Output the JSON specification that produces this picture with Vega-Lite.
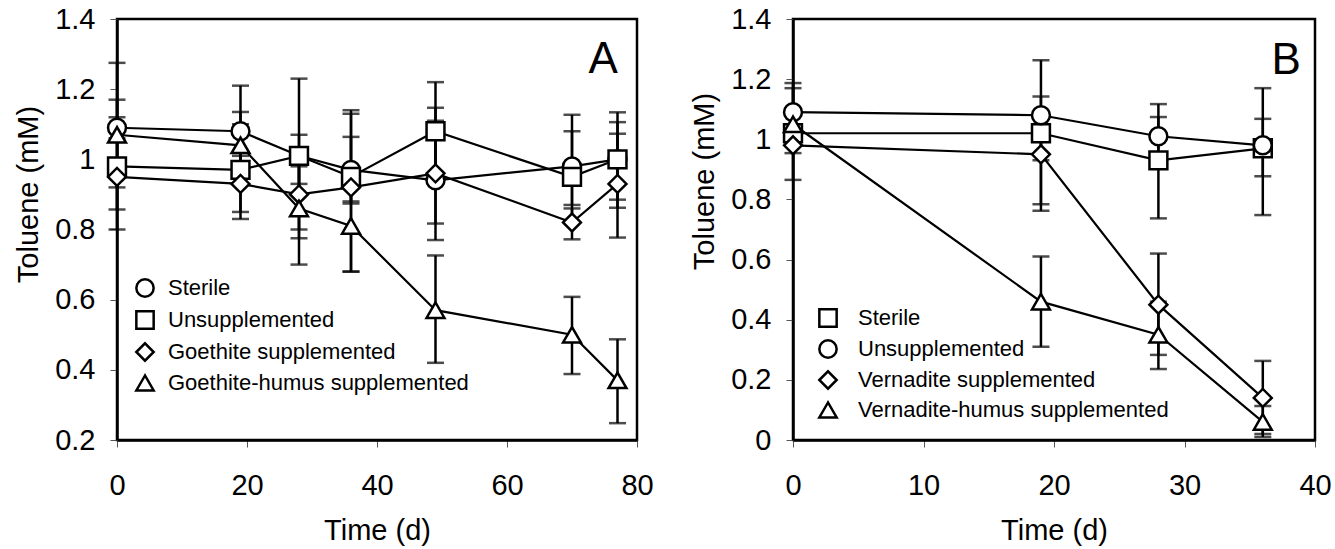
{
  "$schema": "https://vega.github.io/schema/vega-lite/v6.json",
  "background": "white",
  "padding": {"left": 12, "top": 3, "right": 0, "bottom": 0},
  "config": {
    "font": "Liberation Sans",
    "view": {"stroke": "black", "strokeWidth": 2.5},
    "axis": {
      "grid": false, "labelFlush": false,
      "labelFont": "Liberation Sans", "labelFontSize": 29, "labelColor": "black",
      "titleFont": "Liberation Sans", "titleFontSize": 29, "titleFontWeight": "normal", "titleColor": "black",
      "domainColor": "black", "domainWidth": 2.5,
      "tickColor": "#555", "tickSize": 7, "tickWidth": 1
    },
    "legend": {"labelFont": "Liberation Sans", "labelFontSize": 22, "labelColor": "black", "labelLimit": 0}
  },
  "datasets": {
    "A": [
      {"s": "Sterile", "t": 0, "v": 1.09, "lo": 1.06, "hi": 1.12},
      {"s": "Sterile", "t": 19, "v": 1.08, "lo": 0.95, "hi": 1.21},
      {"s": "Sterile", "t": 28, "v": 1.01, "lo": 0.93, "hi": 1.07},
      {"s": "Sterile", "t": 36, "v": 0.97, "lo": 0.88, "hi": 1.064},
      {"s": "Sterile", "t": 49, "v": 0.94, "lo": 0.77, "hi": 1.11},
      {"s": "Sterile", "t": 70, "v": 0.98, "lo": 0.87, "hi": 1.127},
      {"s": "Sterile", "t": 77, "v": 1.0, "lo": 0.885, "hi": 1.134},
      {"s": "Unsupplemented", "t": 0, "v": 0.98, "lo": 0.8, "hi": 1.17},
      {"s": "Unsupplemented", "t": 19, "v": 0.97, "lo": 0.83, "hi": 1.135},
      {"s": "Unsupplemented", "t": 28, "v": 1.01, "lo": 0.8, "hi": 1.23},
      {"s": "Unsupplemented", "t": 36, "v": 0.95, "lo": 0.68, "hi": 1.13},
      {"s": "Unsupplemented", "t": 49, "v": 1.08, "lo": 0.94, "hi": 1.22},
      {"s": "Unsupplemented", "t": 70, "v": 0.95, "lo": 0.82, "hi": 1.08},
      {"s": "Unsupplemented", "t": 77, "v": 1.0, "lo": 0.862, "hi": 1.106},
      {"s": "Goethite supplemented", "t": 0, "v": 0.95, "lo": 0.92, "hi": 0.98},
      {"s": "Goethite supplemented", "t": 19, "v": 0.93, "lo": 0.85, "hi": 1.01},
      {"s": "Goethite supplemented", "t": 28, "v": 0.9, "lo": 0.775, "hi": 1.02},
      {"s": "Goethite supplemented", "t": 36, "v": 0.92, "lo": 0.874, "hi": 1.14},
      {"s": "Goethite supplemented", "t": 49, "v": 0.96, "lo": 0.817, "hi": 1.147},
      {"s": "Goethite supplemented", "t": 70, "v": 0.82, "lo": 0.772, "hi": 0.86},
      {"s": "Goethite supplemented", "t": 77, "v": 0.93, "lo": 0.777, "hi": 1.073},
      {"s": "Goethite-humus supplemented", "t": 0, "v": 1.07, "lo": 0.857, "hi": 1.275},
      {"s": "Goethite-humus supplemented", "t": 19, "v": 1.04, "lo": 0.98, "hi": 1.1},
      {"s": "Goethite-humus supplemented", "t": 28, "v": 0.86, "lo": 0.7, "hi": 0.98},
      {"s": "Goethite-humus supplemented", "t": 36, "v": 0.81, "lo": 0.68, "hi": 0.94},
      {"s": "Goethite-humus supplemented", "t": 49, "v": 0.57, "lo": 0.42, "hi": 0.726},
      {"s": "Goethite-humus supplemented", "t": 70, "v": 0.5, "lo": 0.388, "hi": 0.608},
      {"s": "Goethite-humus supplemented", "t": 77, "v": 0.37, "lo": 0.248, "hi": 0.487}
    ],
    "B": [
      {"s": "Sterile", "t": 0, "v": 1.02, "lo": 0.865, "hi": 1.17},
      {"s": "Sterile", "t": 19, "v": 1.02, "lo": 0.784, "hi": 1.142},
      {"s": "Sterile", "t": 28, "v": 0.93, "lo": 0.737, "hi": 1.074},
      {"s": "Sterile", "t": 36, "v": 0.97, "lo": 0.748, "hi": 1.17},
      {"s": "Unsupplemented", "t": 0, "v": 1.09, "lo": 1.0, "hi": 1.187},
      {"s": "Unsupplemented", "t": 19, "v": 1.08, "lo": 0.93, "hi": 1.263},
      {"s": "Unsupplemented", "t": 28, "v": 1.01, "lo": 0.95, "hi": 1.117},
      {"s": "Unsupplemented", "t": 36, "v": 0.98, "lo": 0.877, "hi": 1.068},
      {"s": "Vernadite supplemented", "t": 0, "v": 0.98, "lo": 0.954, "hi": 1.0},
      {"s": "Vernadite supplemented", "t": 19, "v": 0.95, "lo": 0.762, "hi": 1.0},
      {"s": "Vernadite supplemented", "t": 28, "v": 0.45, "lo": 0.283, "hi": 0.62},
      {"s": "Vernadite supplemented", "t": 36, "v": 0.14, "lo": 0.02, "hi": 0.263},
      {"s": "Vernadite-humus supplemented", "t": 0, "v": 1.05, "lo": 1.02, "hi": 1.08},
      {"s": "Vernadite-humus supplemented", "t": 19, "v": 0.46, "lo": 0.31, "hi": 0.61},
      {"s": "Vernadite-humus supplemented", "t": 28, "v": 0.35, "lo": 0.236, "hi": 0.46},
      {"s": "Vernadite-humus supplemented", "t": 36, "v": 0.06, "lo": 0.01, "hi": 0.113}
    ]
  },
  "spacing": 33,
  "resolve": {"scale": {"shape": "independent", "x": "independent", "y": "independent"}, "legend": {"shape": "independent"}},
  "hconcat": [
    {
      "width": 520,
      "height": 421,
      "data": {"name": "A"},
      "encoding": {
        "x": {
          "field": "t", "type": "quantitative", "title": "Time (d)",
          "scale": {"domain": [0, 80], "nice": false, "zero": false},
          "axis": {"values": [0, 20, 40, 60, 80], "labelPadding": 24, "titlePadding": 16}
        }
      },
      "layer": [
        {
          "mark": {"type": "rule", "color": "black", "strokeWidth": 2.5},
          "encoding": {
            "y": {
              "field": "lo", "type": "quantitative", "title": "Toluene (mM)",
              "scale": {"domain": [0.2, 1.4], "nice": false, "zero": false},
              "axis": {"values": [0.2, 0.4, 0.6, 0.8, 1.0, 1.2, 1.4], "format": ".1~f", "labelPadding": 15, "titleX": -89, "titleY": 175, "titleBaseline": "middle"}
            },
            "y2": {"field": "hi"}
          }
        },
        {
          "mark": {"type": "tick", "orient": "horizontal", "color": "black", "size": 17, "thickness": 2.5},
          "encoding": {"y": {"field": "lo", "type": "quantitative", "title": "Toluene (mM)"}}
        },
        {
          "mark": {"type": "tick", "orient": "horizontal", "color": "black", "size": 17, "thickness": 2.5},
          "encoding": {"y": {"field": "hi", "type": "quantitative", "title": "Toluene (mM)"}}
        },
        {
          "mark": {"type": "line", "color": "black", "strokeWidth": 2.2},
          "encoding": {
            "y": {"field": "v", "type": "quantitative", "title": "Toluene (mM)"},
            "detail": {"field": "s", "type": "nominal"},
            "order": {"field": "t", "type": "quantitative"}
          }
        },
        {
          "mark": {"type": "point", "filled": false, "fill": "white", "color": "black", "strokeWidth": 2.5, "size": 320, "opacity": 1, "fillOpacity": 1},
          "encoding": {
            "y": {"field": "v", "type": "quantitative", "title": "Toluene (mM)"},
            "shape": {
              "field": "s", "type": "nominal",
              "scale": {"domain": ["Sterile", "Unsupplemented", "Goethite supplemented", "Goethite-humus supplemented"], "range": ["circle", "square", "diamond", "triangle-up"]},
              "legend": {"orient": "none", "legendX": 17, "legendY": 258, "title": null, "labelFontSize": 22, "labelOffset": 12, "rowPadding": 4, "symbolSize": 300, "symbolStrokeWidth": 2.5}
            }
          }
        },
        {
          "transform": [{"filter": "datum.t == 0 && datum.s == 'Sterile'"}],
          "mark": {"type": "text", "fontSize": 44, "align": "center", "baseline": "alphabetic", "fill": "black", "font": "Liberation Sans", "text": "A"},
          "encoding": {
            "x": {"datum": 74.8},
            "y": {"datum": 1.245}
          }
        }
      ]
    },
    {
      "width": 522,
      "height": 421,
      "data": {"name": "B"},
      "encoding": {
        "x": {
          "field": "t", "type": "quantitative", "title": "Time (d)",
          "scale": {"domain": [0, 40], "nice": false, "zero": false},
          "axis": {"values": [0, 10, 20, 30, 40], "labelPadding": 24, "titlePadding": 16}
        }
      },
      "layer": [
        {
          "mark": {"type": "rule", "color": "black", "strokeWidth": 2.5},
          "encoding": {
            "y": {
              "field": "lo", "type": "quantitative", "title": "Toluene (mM)",
              "scale": {"domain": [0, 1.4], "nice": false, "zero": false},
              "axis": {"values": [0, 0.2, 0.4, 0.6, 0.8, 1.0, 1.2, 1.4], "format": ".1~f", "labelPadding": 15, "titleX": -89, "titleY": 162, "titleBaseline": "middle"}
            },
            "y2": {"field": "hi"}
          }
        },
        {
          "mark": {"type": "tick", "orient": "horizontal", "color": "black", "size": 17, "thickness": 2.5},
          "encoding": {"y": {"field": "lo", "type": "quantitative", "title": "Toluene (mM)"}}
        },
        {
          "mark": {"type": "tick", "orient": "horizontal", "color": "black", "size": 17, "thickness": 2.5},
          "encoding": {"y": {"field": "hi", "type": "quantitative", "title": "Toluene (mM)"}}
        },
        {
          "mark": {"type": "line", "color": "black", "strokeWidth": 2.2},
          "encoding": {
            "y": {"field": "v", "type": "quantitative", "title": "Toluene (mM)"},
            "detail": {"field": "s", "type": "nominal"},
            "order": {"field": "t", "type": "quantitative"}
          }
        },
        {
          "mark": {"type": "point", "filled": false, "fill": "white", "color": "black", "strokeWidth": 2.5, "size": 320, "opacity": 1, "fillOpacity": 1},
          "encoding": {
            "y": {"field": "v", "type": "quantitative", "title": "Toluene (mM)"},
            "shape": {
              "field": "s", "type": "nominal",
              "scale": {"domain": ["Sterile", "Unsupplemented", "Vernadite supplemented", "Vernadite-humus supplemented"], "range": ["square", "circle", "diamond", "triangle-up"]},
              "legend": {
                "orient": "none", "legendX": 24, "legendY": 288, "title": null,
                "symbolSize": 300, "symbolStrokeWidth": 2.5,
                "labelOffset": 19, "rowPadding": 3, "labelFontSize": 22
              }
            }
          }
        },
        {
          "transform": [{"filter": "datum.t == 0 && datum.s == 'Sterile'"}],
          "mark": {"type": "text", "fontSize": 44, "align": "center", "baseline": "alphabetic", "fill": "black", "font": "Liberation Sans", "text": "B"},
          "encoding": {
            "x": {"datum": 37.8},
            "y": {"datum": 1.217}
          }
        }
      ]
    }
  ]
}
